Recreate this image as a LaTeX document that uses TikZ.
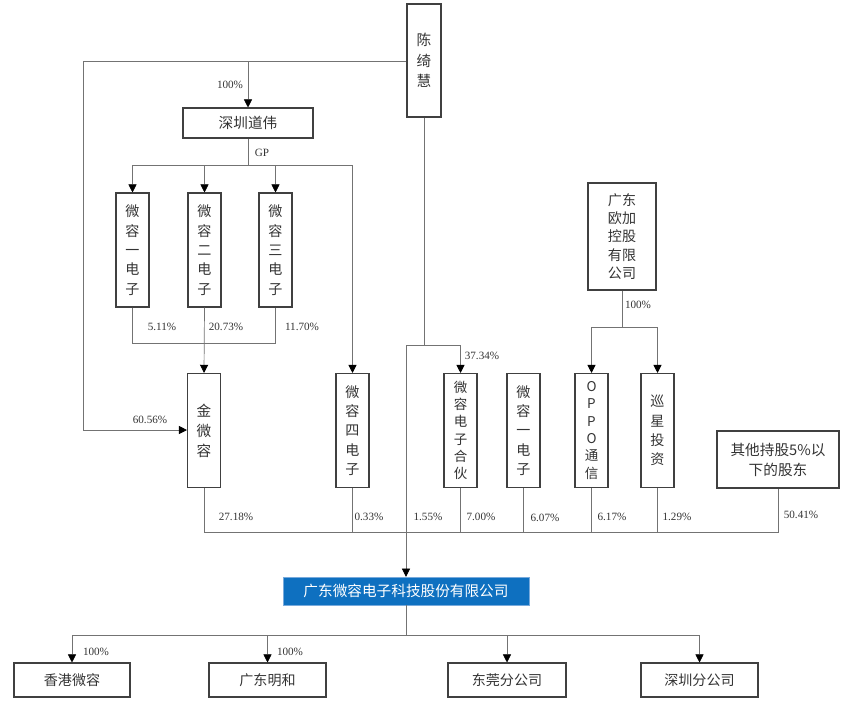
\documentclass[tikz,border=0pt]{standalone}
\usepackage{fontspec}
\setmainfont{Liberation Serif}
\newfontfamily\cjk{Noto Sans CJK SC}
\usetikzlibrary{arrows.meta}
\begin{document}
\begin{tikzpicture}[x=0.03cm,y=-0.03cm,
  box/.style={draw=black!75,line width=0.9pt,inner sep=0pt,font=\cjk\fontsize{12}{16.5}\selectfont,align=center,text=black!80},
  vb/.style={box,minimum width=0.99cm,minimum height=3.42cm},
  hb/.style={box,minimum height=1.02cm},
  ln/.style={draw=black!55,line width=0.6pt},
  ar/.style={ln,-{Triangle[length=7pt,width=7pt,fill=black,color=black]}},
  pc/.style={font=\fontsize{9.5}{10}\selectfont,text=black!80,inner sep=0pt}]
\useasboundingbox (0,0) rectangle (844,720);
% nodes
\node[box,minimum width=1.02cm,minimum height=3.39cm,font=\cjk\fontsize{12.5}{17.5}\selectfont] (chen) at (424,60.5) {陈\\绮\\慧};
\node[hb,minimum width=3.9cm,minimum height=0.9cm,font=\cjk\fontsize{12.5}{14}\selectfont] (dw) at (248,123) {深圳道伟};
\node[vb] (w1) at (132.5,250) {微\\容\\一\\电\\子};
\node[vb] (w2) at (204.5,250) {微\\容\\二\\电\\子};
\node[vb] (w3) at (275.5,250) {微\\容\\三\\电\\子};
\node[box,minimum width=2.04cm,minimum height=3.21cm,font=\cjk\fontsize{12}{15.5}\selectfont] (oj) at (622,236.5) {广东\\欧加\\控股\\有限\\公司};
\node[vb,font=\cjk\fontsize{12.5}{17}\selectfont] (jin) at (204,430.5) {金\\微\\容};
\node[vb] (w4) at (352.5,430.5) {微\\容\\四\\电\\子};
\node[vb,font=\cjk\fontsize{11.5}{14.8}\selectfont] (hh) at (460.5,430.5) {微\\容\\电\\子\\合\\伙};
\node[vb] (w1b) at (523.5,430.5) {微\\容\\一\\电\\子};
\node[vb,font=\cjk\fontsize{11.5}{14.8}\selectfont] (op) at (591.5,430.5) {O\\P\\P\\O\\通\\信};
\node[vb,font=\cjk\fontsize{12}{16.5}\selectfont] (xx) at (657.5,430.5) {巡\\星\\投\\资};
\node[box,minimum width=3.66cm,minimum height=1.71cm,font=\cjk\fontsize{12.5}{17}\selectfont] (qt) at (778,459.5) {其他持股5\%以\\下的股东};
\node[fill={rgb,255:red,14;green,112;blue,192},draw={rgb,255:red,120;green,170;blue,220},inner sep=0pt,minimum width=7.38cm,minimum height=0.84cm,text=white,font=\cjk\fontsize{12.5}{14}\selectfont] (gd) at (406,591) {广东微容电子科技股份有限公司};
\node[hb,minimum width=3.48cm] (hk) at (72,680) {香港微容};
\node[hb,minimum width=3.51cm] (mh) at (267.5,680) {广东明和};
\node[hb,minimum width=3.54cm] (dg) at (507,680) {东莞分公司};
\node[hb,minimum width=3.51cm] (sz) at (699.5,680) {深圳分公司};
% coordinates
\coordinate (cl) at (83,61);
\coordinate (cb) at (424,345);
\coordinate (cw) at (406,345);
\coordinate (gp) at (248,165);
\coordinate (jb) at (204,343);
\coordinate (bus) at (204,532);
\coordinate (ob) at (622,327);
\coordinate (gb) at (406,635);
% top connectors
\draw[ln] (chen.west |- cl) -- (cl) -- (83,430);
\draw[ar] (83,430) -- (jin.west |- 83,430);
\draw[ar] (248,61) -- (dw.north);
\draw[ln] (dw.south) -- (gp);
\draw[ln] (w1.north |- gp) -- (w4.north |- gp);
\draw[ar] (w1.north |- gp) -- (w1.north);
\draw[ar] (gp -| w2.north) -- (w2.north);
\draw[ar] (gp -| w3.north) -- (w3.north);
\draw[ar] (w4.north |- gp) -- (w4.north);
\draw[ln] (w1.south) -- (w1.south |- jb) -- (w3.south |- jb) -- (w3.south);
\draw[ar] (w2.south) -- (jin.north);
\draw[ln] (chen.south) -- (cb);
\draw[ln] (cw) -- (hh.north |- cw);
\draw[ar] (hh.north |- cw) -- (hh.north);
\draw[ar] (cw) -- (gd.north);
\draw[ln] (oj.south) -- (ob);
\draw[ln] (op.north |- ob) -- (xx.north |- ob);
\draw[ar] (op.north |- ob) -- (op.north);
\draw[ar] (xx.north |- ob) -- (xx.north);
% shareholders bus
\draw[ln] (jin.south) -- (bus) -- (qt.south |- bus) -- (qt.south);
\foreach \n in {w4,hh,w1b,op,xx} \draw[ln] (\n.south) -- (\n.south |- bus);
% subsidiaries
\draw[ln] (gd.south) -- (gb);
\draw[ln] (hk.north |- gb) -- (sz.north |- gb);
\foreach \n in {hk,mh,dg,sz} \draw[ar] (\n.north |- gb) -- (\n.north);
% labels
\node[pc] at (230,85) {100\%};
\node[pc] at (262,153) {GP};
\node[pc] at (162,327) {5.11\%};
\node[pc] at (226,327) {20.73\%};
\node[pc] at (302,327) {11.70\%};
\node[pc] at (150,420) {60.56\%};
\node[pc] at (482,356) {37.34\%};
\node[pc] at (638,305) {100\%};
\node[pc] at (236,517) {27.18\%};
\node[pc] at (369,517) {0.33\%};
\node[pc] at (428,517) {1.55\%};
\node[pc] at (481,517) {7.00\%};
\node[pc] at (545,518) {6.07\%};
\node[pc] at (612,517) {6.17\%};
\node[pc] at (677,517) {1.29\%};
\node[pc] at (801,515) {50.41\%};
\node[pc] at (96,652) {100\%};
\node[pc] at (290,652) {100\%};
\end{tikzpicture}
\end{document}
